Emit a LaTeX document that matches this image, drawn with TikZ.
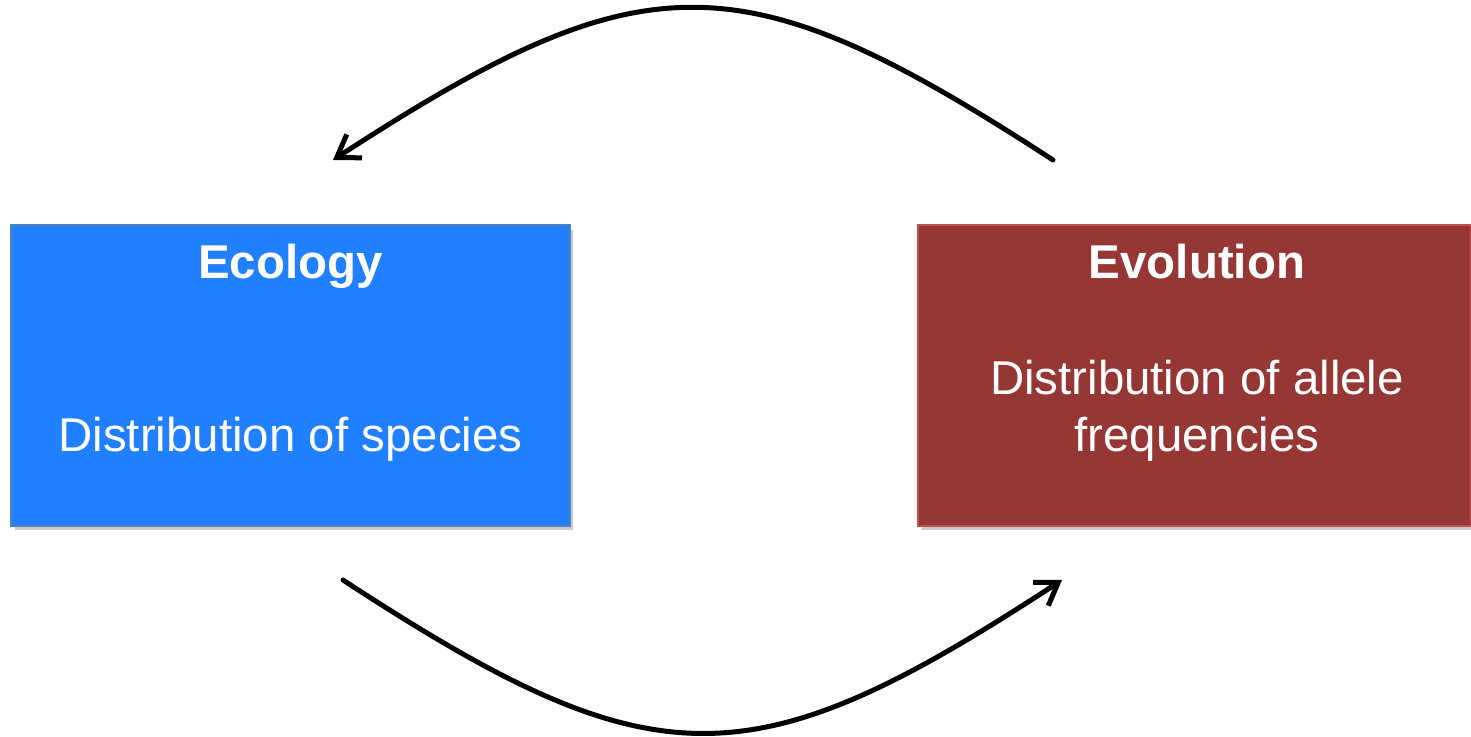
\documentclass[tikz,border=0pt]{standalone}
\usepackage{fontspec}
\setmainfont{Liberation Sans}
\usetikzlibrary{positioning, arrows.meta, shadows}
\definecolor{ecoFill}{HTML}{2080FF}
\definecolor{ecoB}{HTML}{4F81BD}
\definecolor{evoFill}{HTML}{953735}
\definecolor{evoB}{HTML}{C0504D}

\begin{document}
\begin{tikzpicture}[x=0.02cm, y=-0.02cm, box/.style={draw, line width=1pt, minimum height=6.02cm, inner sep=0pt, drop shadow={shadow xshift=0.07cm, shadow yshift=-0.09cm, opacity=0.35, fill=black!60}}, boxtext/.style={text=white, anchor=base, align=center, inner sep=0pt, font=\fontsize{27}{32.5}\selectfont}, flow/.style={line width=0.1cm, line cap=round, -{Straight Barb[length=0.42cm, width=0.56cm]}}]
\useasboundingbox (0,0) rectangle (1471,737);
\node[box, fill=ecoFill, draw=ecoB, minimum width=11.18cm] (eco) at (290.5,375.5) {};
\node[box, fill=evoFill, draw=evoB, minimum width=11.06cm] (evo) at (1194.5,375.5) {};
\node[boxtext, font=\fontsize{27}{32.5}\selectfont\bfseries] (ecot) at ([yshift=-1.08cm]eco.north) {Ecology};
\node[boxtext] (ecob) at ([yshift=-4.54cm]eco.north) {Distribution of species};
\node[boxtext, font=\fontsize{27}{32.5}\selectfont\bfseries] (evot) at ([xshift=0.05cm, yshift=-1.08cm]evo.north) {Evolution};
\node[boxtext] (evob) at ([xshift=0.05cm, yshift=-4.54cm]evo.north) {Distribution of allele\\frequencies};
% feedback arcs
\coordinate (topR) at (1053,160); \coordinate (topL) at (333,160);
\coordinate (botL) at (343,580); \coordinate (botR) at (1062,580);
\draw[flow] (topR) .. controls (741,-43) and (645,-43) .. (topL);
\draw[flow] (botL) .. controls (655,784) and (750,784) .. (botR);
\end{tikzpicture}
\end{document}
